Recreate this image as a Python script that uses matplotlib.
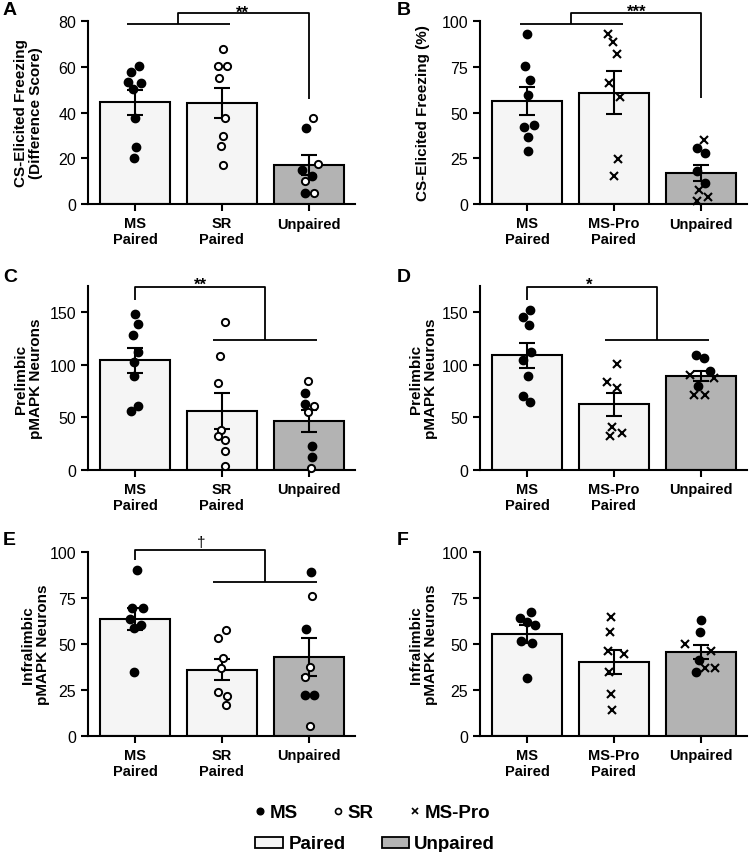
import numpy as np
import matplotlib
matplotlib.use('Agg')
import matplotlib.pyplot as plt
from matplotlib.patches import Rectangle

plt.rcParams['font.family'] = ['Liberation Sans', 'DejaVu Sans']

labels_sr = ['MS\nPaired', 'SR\nPaired', 'Unpaired']
labels_pro = ['MS\nPaired', 'MS-Pro\nPaired', 'Unpaired']

# A - CS freezing, difference score
a_mean = [44.5, 44.3, 17.1]
a_sem = [5.5, 6.6, 4.3]
a_pts = [[57.9, 60.3, 53.2, 52.9, 50.3, 37.5, 25.1, 20.0],
         [67.8, 60.2, 60.2, 55.2, 37.6, 29.9, 25.4, 17.2],
         [33.4, 37.5, 17.5, 15.0, 12.4, 9.9, 4.7, 4.8]]
a_kind = [['MS'] * 8, ['SR'] * 8, ['MS', 'SR', 'SR', 'MS', 'MS', 'SR', 'MS', 'SR']]
a_jit = [[-0.04, 0.05, -0.08, 0.07, -0.02, 0, 0.01, -0.01],
         [0.01, -0.04, 0.06, -0.03, 0.03, 0.01, -0.01, 0.01],
         [-0.03, 0.05, 0.10, -0.08, 0.04, -0.04, -0.05, 0.06]]

# B - CS freezing %
b_mean = [56.1, 60.8, 17.1]
b_sem = [7.6, 11.7, 4.4]
b_pts = [[92.7, 75.4, 67.9, 59.4, 42.3, 43.4, 36.8, 29.1],
         [92.9, 88.7, 82.1, 65.9, 58.5, 24.4, 15.5],
         [35.0, 30.6, 28.0, 17.9, 11.5, 7.5, 4.0, 1.6]]
b_kind = [['MS'] * 8, ['Pro'] * 7, ['Pro', 'MS', 'MS', 'MS', 'MS', 'Pro', 'Pro', 'Pro']]
b_jit = [[0, -0.02, 0.04, 0.015, -0.03, 0.08, 0.015, 0.01],
         [-0.07, -0.01, 0.03, -0.06, 0.07, 0.05, 0],
         [0.03, -0.04, 0.05, -0.05, 0.05, -0.02, 0.08, -0.05]]

# C - prelimbic pMAPK (SR)
c_mean = [104.5, 56.2, 46.7]
c_sem = [12.0, 17.2, 10.5]
c_pts = [[148.1, 138.9, 128.4, 111.9, 103.0, 89.3, 61.0, 55.9],
         [141.1, 108.7, 82.9, 38.1, 32.1, 28.9, 17.8, 3.8],
         [84.5, 73.1, 62.9, 60.4, 54.7, 22.9, 12.7, 2.2]]
c_kind = [['MS'] * 8, ['SR'] * 8, ['SR', 'MS', 'MS', 'SR', 'SR', 'MS', 'MS', 'SR']]
c_jit = [[0, 0.03, -0.02, 0.03, -0.01, -0.01, 0.03, -0.045],
         [0.04, -0.02, -0.04, -0.01, -0.04, 0.03, 0.03, 0.03],
         [-0.01, -0.04, -0.05, 0.06, -0.01, 0.03, 0.04, 0.02]]

# D - prelimbic pMAPK (MS-Pro)
d_mean = [109.3, 62.6, 89.0]
d_sem = [11.9, 10.8, 4.7]
d_pts = [[152.2, 145.9, 137.9, 111.9, 104.2, 89.0, 70.5, 64.2],
         [100.7, 83.9, 78.2, 41.3, 35.6, 32.4],
         [109.6, 106.1, 93.7, 90.2, 80.1, 87.1, 71.5, 70.9]]
d_kind = [['MS'] * 8, ['Pro'] * 6, ['MS', 'MS', 'MS', 'Pro', 'MS', 'Pro', 'Pro', 'Pro']]
d_jit = [[0.04, -0.04, 0.02, 0.05, -0.04, 0.01, -0.04, 0.04],
         [0.04, -0.08, 0.04, -0.02, 0.09, -0.05],
         [-0.06, 0.04, 0.10, -0.12, -0.03, 0.15, -0.08, 0.05]]

# E - infralimbic pMAPK (SR)
e_mean = [63.6, 36.1, 42.8]
e_sem = [6.1, 5.6, 10.3]
e_pts = [[90.4, 69.4, 69.4, 63.6, 60.5, 58.7, 35.0],
         [57.8, 53.3, 42.4, 36.8, 23.7, 21.6, 17.0],
         [88.9, 76.3, 58.2, 37.3, 31.9, 22.5, 22.5, 5.4]]
e_kind = [['MS'] * 7, ['SR'] * 7, ['MS', 'SR', 'MS', 'SR', 'SR', 'MS', 'MS', 'SR']]
e_jit = [[0.02, -0.03, 0.09, -0.06, 0.07, -0.01, -0.01],
         [0.05, -0.04, 0.01, -0.01, -0.04, 0.06, 0.05],
         [0.02, 0.04, -0.03, 0.01, -0.04, -0.05, 0.06, 0.01]]

# F - infralimbic pMAPK (MS-Pro)
f_mean = [55.3, 40.4, 45.8]
f_sem = [4.8, 6.5, 3.7]
f_pts = [[67.2, 64.1, 61.8, 60.5, 51.4, 50.4, 31.7],
         [64.5, 56.7, 46.4, 44.6, 35.0, 22.8, 13.9],
         [63.2, 56.7, 50.0, 46.4, 41.5, 35.0, 36.8, 36.8]]
f_kind = [['MS'] * 7, ['Pro'] * 7, ['MS', 'MS', 'Pro', 'Pro', 'MS', 'MS', 'Pro', 'Pro']]
f_jit = [[0.05, -0.08, 0, 0.09, -0.07, 0.06, 0],
         [-0.03, -0.04, -0.07, 0.11, -0.06, -0.03, -0.02],
         [0, -0.01, -0.18, 0.12, -0.02, -0.06, 0.05, 0.16]]

PAIRED = '#f5f5f5'
UNPAIRED = '#b3b3b3'
W, H = 750, 853

fig = plt.figure(figsize=(W / 100, H / 100), dpi=100)


def px_axes(left, top, right, bottom):
    return fig.add_axes([left / W, 1 - bottom / H, (right - left) / W, (bottom - top) / H])


def draw_panel(ax, means, sems, pts, kinds, jit, labels, ymax, yticks, ylabel, labx):
    x = np.arange(3)
    ax.bar(x, means, width=0.8, color=[PAIRED, PAIRED, UNPAIRED], edgecolor='k',
           linewidth=1.5, zorder=2)
    ax.errorbar(x, means, yerr=sems, fmt='none', ecolor='k', elinewidth=1.5,
                capsize=6, capthick=1.5, zorder=4)
    for i in range(3):
        for v, k, j in zip(pts[i], kinds[i], jit[i]):
            if k == 'MS':
                ax.plot(i + j, v, 'o', ms=6, color='k', zorder=5, clip_on=False)
            elif k == 'SR':
                ax.plot(i + j, v, 'o', ms=5.2, mfc='white', mec='k', mew=1.4, zorder=5, clip_on=False)
            else:
                ax.plot(i + j, v, 'x', ms=6, color='k', mew=1.5, zorder=5, clip_on=False)
    ax.set_xlim(-0.54, 2.53)
    ax.set_ylim(0, ymax)
    ax.set_yticks(yticks)
    ax.set_xticks(x)
    ax.set_xticklabels(labels, fontsize=10.5, fontweight='bold', linespacing=1.15)
    ax.tick_params(axis='y', labelsize=11.5, length=5, width=1.5, direction='out')
    ax.tick_params(axis='x', length=5, width=1.5, direction='out', pad=4)
    for s in ['top', 'right']:
        ax.spines[s].set_visible(False)
    for s in ['left', 'bottom']:
        ax.spines[s].set_linewidth(1.5)
    ax.set_ylabel(ylabel, fontsize=11, fontweight='bold', linespacing=1.1)
    ax.yaxis.set_label_coords(labx, 0.5)


def bracket(ax, xs, ys):
    ax.plot(xs, ys, color='k', lw=1.3, clip_on=False, solid_capstyle='butt', zorder=6)


def stars(ax, x, y, s):
    ax.text(x, y, s, ha='center', va='baseline', fontsize=12, fontweight='bold')


axA = px_axes(88, 22, 355, 205)
draw_panel(axA, a_mean, a_sem, a_pts, a_kind, a_jit, labels_sr, 80, [0, 20, 40, 60, 80],
           'CS-Elicited Freezing\n(Difference Score)', -0.169)
bracket(axA, [-0.09, 1.09], [78.7, 78.7])
bracket(axA, [0.49, 0.49, 2.0, 2.0], [78.7, 83.5, 83.5, 46])
stars(axA, 1.23, 82.0, '**')

axB = px_axes(480, 22, 747, 205)
draw_panel(axB, b_mean, b_sem, b_pts, b_kind, b_jit, labels_pro, 100, [0, 25, 50, 75, 100],
           'CS-Elicited Freezing (%)', -0.187)
bracket(axB, [-0.08, 1.10], [98.4, 98.4])
bracket(axB, [0.51, 0.51, 2.0, 2.0], [98.4, 104.4, 104.4, 58])
stars(axB, 1.26, 102.6, '***')

axC = px_axes(88, 287, 355, 471)
draw_panel(axC, c_mean, c_sem, c_pts, c_kind, c_jit, labels_sr, 175, [0, 50, 100, 150],
           'Prelimbic\npMAPK Neurons', -0.169)
bracket(axC, [0, 0, 1.49, 1.49], [162, 174, 174, 123.5])
bracket(axC, [0.9, 2.09], [123.5, 123.5])
stars(axC, 0.75, 172, '**')

axD = px_axes(480, 287, 747, 471)
draw_panel(axD, d_mean, d_sem, d_pts, d_kind, d_jit, labels_pro, 175, [0, 50, 100, 150],
           'Prelimbic\npMAPK Neurons', -0.157)
bracket(axD, [0, 0, 1.5, 1.5], [162, 174, 174, 123.5])
bracket(axD, [0.9, 2.09], [123.5, 123.5])
stars(axD, 0.72, 172, '*')

axE = px_axes(88, 553, 355, 737)
draw_panel(axE, e_mean, e_sem, e_pts, e_kind, e_jit, labels_sr, 100, [0, 25, 50, 75, 100],
           'Infralimbic\npMAPK Neurons', -0.142)
bracket(axE, [0, 0, 1.5, 1.5], [95.6, 101, 101, 83.7])
bracket(axE, [0.9, 2.09], [83.7, 83.7])
axE.text(0.76, 101.5, '\u2020', ha='center', va='bottom', fontsize=11)

axF = px_axes(480, 553, 747, 737)
draw_panel(axF, f_mean, f_sem, f_pts, f_kind, f_jit, labels_pro, 100, [0, 25, 50, 75, 100],
           'Infralimbic\npMAPK Neurons', -0.157)

# overlay in pixel coords for panel letters and legend
ov = fig.add_axes([0, 0, 1, 1], zorder=10)
ov.set_xlim(0, W)
ov.set_ylim(H, 0)
ov.axis('off')
ov.patch.set_alpha(0)

for lt, xx, yy in [('A', 3, 15), ('B', 397, 15), ('C', 3, 282), ('D', 397, 282), ('E', 3, 545), ('F', 397, 545)]:
    ov.text(xx, yy, lt, fontsize=14, fontweight='bold', va='baseline', ha='left')

ov.plot(259.5, 812, 'o', ms=4.8, color='k')
ov.text(270, 818, 'MS', fontsize=13.5, fontweight='bold', va='baseline')
ov.plot(338, 812, 'o', ms=4.3, mfc='white', mec='k', mew=1.2)
ov.text(347, 818, 'SR', fontsize=13.5, fontweight='bold', va='baseline')
ov.plot(415, 812, 'x', ms=4.5, color='k', mew=1.2)
ov.text(425, 818, 'MS-Pro', fontsize=13.5, fontweight='bold', va='baseline')
ov.add_patch(Rectangle((255, 838), 28, 11, fc=PAIRED, ec='k', lw=1.3))
ov.text(289, 849, 'Paired', fontsize=13.5, fontweight='bold', va='baseline')
ov.add_patch(Rectangle((382, 838), 27, 11, fc=UNPAIRED, ec='k', lw=1.3))
ov.text(414, 849, 'Unpaired', fontsize=13.5, fontweight='bold', va='baseline')

fig.savefig('out.png', dpi=100)
